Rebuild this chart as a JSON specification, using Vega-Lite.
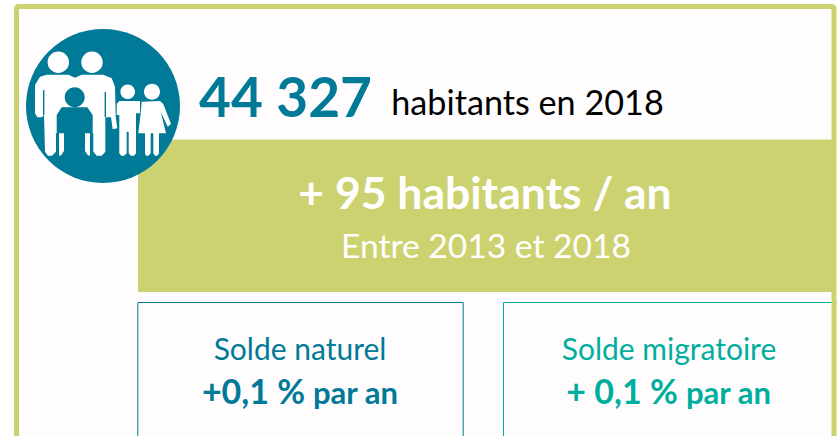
{"$schema":"https://vega.github.io/schema/vega-lite/v6.json","width":837,"height":436,"padding":0,"autosize":{"type":"none"},"background":"#FFFFFF","config":{"view":{"stroke":null}},
"encoding":{"x":{"field":"x","type":"quantitative","axis":null,"scale":{"domain":[0,837],"nice":false,"zero":false}},"y":{"field":"y","type":"quantitative","axis":null,"scale":{"domain":[436,0],"nice":false,"zero":false}}},
"layer":[
{"data":{"values":[{"part":"fond","x":16.5,"x2":834,"y":6.5,"y2":500}]},"mark":{"type":"rect","fill":"#FFFCFE","clip":true},"encoding":{"x2":{"field":"x2"},"y2":{"field":"y2"}}},
{"data":{"values":[{"part":"bandeau","x":138,"x2":834,"y":139.5,"y2":292}]},"mark":{"type":"rect","fill":"#CDD270","clip":true},"encoding":{"x2":{"field":"x2"},"y2":{"field":"y2"}}},
{"data":{"values":[{"part":"solde naturel","x":137.8,"x2":463.2,"y":302.5,"y2":500}]},"mark":{"type":"rect","fill":"#FFFCFE","stroke":"#007A96","strokeWidth":1,"clip":true},"encoding":{"x2":{"field":"x2"},"y2":{"field":"y2"}}},
{"data":{"values":[{"part":"solde migratoire","x":503.5,"x2":850,"y":302.5,"y2":500}]},"mark":{"type":"rect","fill":"#FFFCFE","stroke":"#00AE9D","strokeWidth":1,"clip":true},"encoding":{"x2":{"field":"x2"},"y2":{"field":"y2"}}},
{"data":{"values":[{"part":"cadre","x":16.5,"x2":834,"y":6.5,"y2":500}]},"mark":{"type":"rect","fill":null,"stroke":"#CDD270","strokeWidth":5,"cornerRadius":2,"clip":true},"encoding":{"x2":{"field":"x2"},"y2":{"field":"y2"}}},
{"data":{"values":[{"part":"disque","x":103,"y":106}]},"mark":{"type":"point","shape":"circle","size":23716,"filled":true,"fill":"#007A96","opacity":1,"strokeWidth":0}},
{"data":{"values":[{"part":"famille","x":103,"y":106}]},"mark":{"type":"point","size":4,"filled":true,"fill":"#FFFFFF","opacity":1,"strokeWidth":0,"shape":"M-55.4,-43.7a10.7,10.7 0 1,0 21.4,0a10.7,10.7 0 1,0 -21.4,0ZM-21.7,-43.7a10.7,10.7 0 1,0 21.4,0a10.7,10.7 0 1,0 -21.4,0ZM-68,-21L-63,-29.3L-56.3,-31.3L-34.7,-31.3L-28,-28.3L-21.3,-31.3L0.3,-31.3L8.7,-27.7L12,-19.3L12.7,10.7L14.3,22.3L9.7,23.3L8,11.3L2.3,11.3L2.3,45.7L-1.3,49.7L-6.3,49.7L-9.7,45.7L-9.7,27.3L-47,27.3L-47,45.7L-51,49.7L-55,49.7L-58,45.7L-59,9L-61.3,11.3L-65.7,11.3L-68,7.3ZM17.4,-14.3a7.3,7.3 0 1,0 14.6,0a7.3,7.3 0 1,0 -14.6,0ZM41,-14.3a8,8 0 1,0 16,0a8,8 0 1,0 -16,0ZM13.7,-2L16.3,-5L37,-5L37,7.3L33,7.3L33,47.3L31,49.7L27.7,49.7L25.7,47.3L25.7,25.7L23.7,25.7L23.7,47.3L21,49.7L18.3,49.7L16.3,47.3L16.3,9L13.7,9ZM38.7,-4.3L57,-5L60.3,-2L68,18L64.7,20.7L57.7,5.7L63,27.3L56,27.3L56,47.3L54.3,49.7L52,49.7L50.3,47.3L50.3,27.3L47.7,27.3L47.7,47.3L45.3,49.7L43,49.7L42,47.3L42,27.3L35.3,27.3L37.7,7.3Z"}},
{"data":{"values":[{"part":"enfant","x":103,"y":106}]},"mark":{"type":"point","size":4,"filled":true,"fill":"#007A96","opacity":1,"strokeWidth":0,"shape":"M-38.3,-8.7a10,10 0 1,0 20,0a10,10 0 1,0 -20,0ZM-46.3,9L-41.3,1.3L-15.7,1.3L-10.3,9L-10.3,50.7L-46.3,50.7ZM-60,-16L-58.6,-16L-58.6,9L-60,9ZM1.6,-14L3,-14L3,11L1.6,11Z"}},
{"data":{"values":[{"part":"enfant jambes","x":103,"y":106}]},"mark":{"type":"point","size":4,"filled":true,"fill":"#FFFFFF","opacity":1,"strokeWidth":0,"shape":"M-44,27.3L-39,27.3L-39,45L-42,49.5L-44,49.5ZM-18,27.3L-13,27.3L-13,49.5L-15,49.5L-18,45Z"}},
{"data":{"values":[{"label":"44 327","x":285.5,"y":117}]},"mark":{"type":"text","font":"Lato","fontWeight":"bold","fontSize":55,"fill":"#007A96","align":"center","baseline":"alphabetic"},"encoding":{"text":{"field":"label"}}},
{"data":{"values":[{"label":"habitants en 2018","x":527.5,"y":115}]},"mark":{"type":"text","font":"Lato","fontSize":34.2,"fill":"#000000","align":"center","baseline":"alphabetic"},"encoding":{"text":{"field":"label"}}},
{"data":{"values":[{"label":"+ 95 habitants / an","x":485,"y":209}]},"mark":{"type":"text","font":"Lato","fontWeight":"bold","fontSize":44.5,"fill":"#FFFFFF","align":"center","baseline":"alphabetic"},"encoding":{"text":{"field":"label"}}},
{"data":{"values":[{"label":"Entre 2013 et 2018","x":486,"y":258}]},"mark":{"type":"text","font":"Lato","fontSize":33.6,"fill":"#FFFFFF","align":"center","baseline":"alphabetic"},"encoding":{"text":{"field":"label"}}},
{"data":{"values":[{"label":"Solde naturel","x":300,"y":360}]},"mark":{"type":"text","font":"Lato","fontSize":30,"fill":"#007A96","align":"center","baseline":"alphabetic"},"encoding":{"text":{"field":"label"}}},
{"data":{"values":[{"label":"Solde migratoire","x":669,"y":360}]},"mark":{"type":"text","font":"Lato","fontSize":30,"fill":"#00AE9D","align":"center","baseline":"alphabetic"},"encoding":{"text":{"field":"label"}}},
{"data":{"values":[{"label":"+0,1 %","x":253.5,"y":404}]},"mark":{"type":"text","font":"Lato","fontWeight":"bold","fontSize":34,"fill":"#007A96","align":"center","baseline":"alphabetic"},"encoding":{"text":{"field":"label"}}},
{"data":{"values":[{"label":"par an","x":355.5,"y":404}]},"mark":{"type":"text","font":"Lato","fontWeight":"bold","fontSize":31,"fill":"#007A96","align":"center","baseline":"alphabetic"},"encoding":{"text":{"field":"label"}}},
{"data":{"values":[{"label":"+ 0,1 %","x":622,"y":404}]},"mark":{"type":"text","font":"Lato","fontWeight":"bold","fontSize":34,"fill":"#00AE9D","align":"center","baseline":"alphabetic"},"encoding":{"text":{"field":"label"}}},
{"data":{"values":[{"label":"par an","x":728.5,"y":404}]},"mark":{"type":"text","font":"Lato","fontWeight":"bold","fontSize":31,"fill":"#00AE9D","align":"center","baseline":"alphabetic"},"encoding":{"text":{"field":"label"}}}
]}
